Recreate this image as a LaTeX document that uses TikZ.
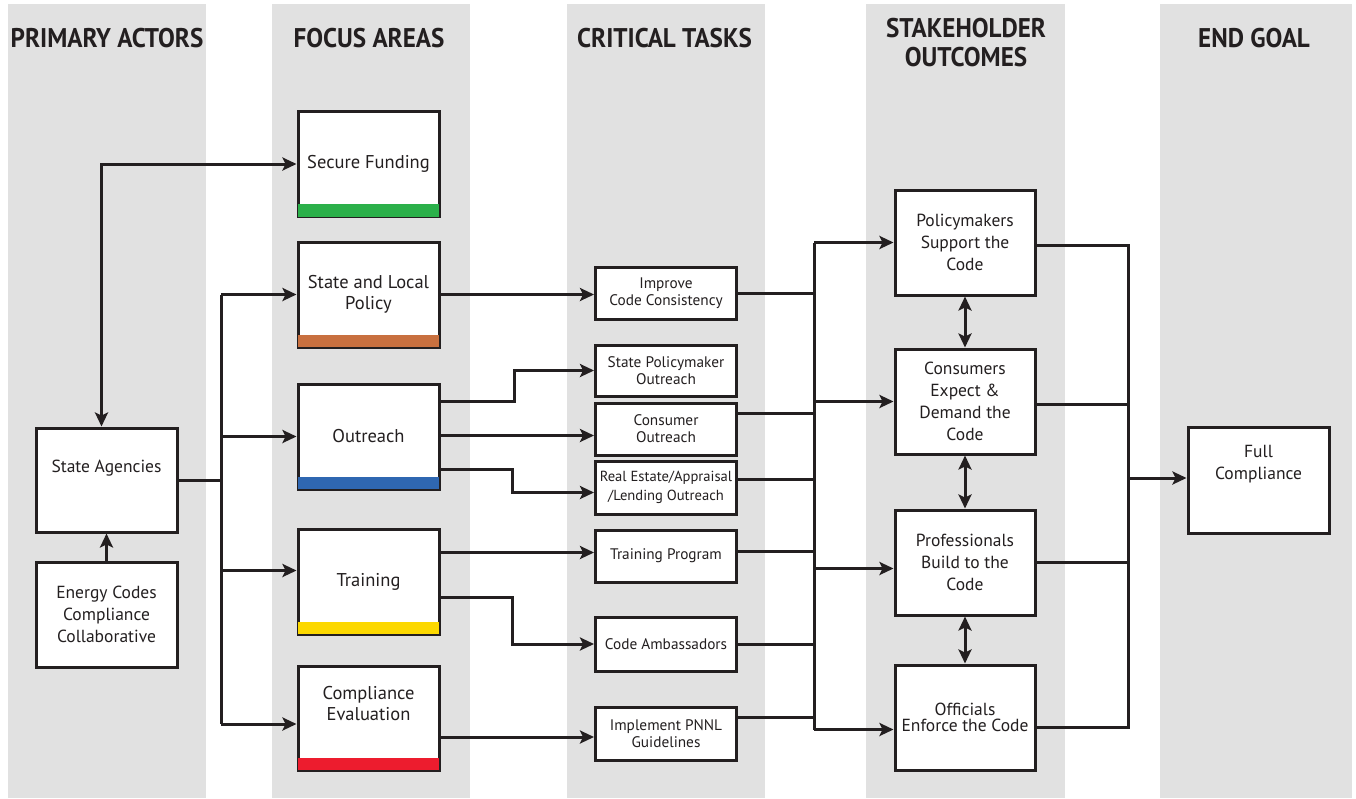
\documentclass[tikz,border=0pt]{standalone}
\usepackage{fontspec}
\setmainfont{PT Sans}
\newfontfamily\headfont[FakeStretch=0.93]{PT Sans}
\usepackage{tikz}
\usetikzlibrary{positioning, calc}
\usetikzlibrary{arrows.meta}

\definecolor{colgray}{HTML}{E1E1E1}
\definecolor{ink}{HTML}{231F20}
\definecolor{barGreen}{HTML}{2BB04A}
\definecolor{barOrange}{HTML}{C8703F}
\definecolor{barBlue}{HTML}{2F67B1}
\definecolor{barYellow}{HTML}{FCD800}
\definecolor{barRed}{HTML}{ED1C2E}

\tikzset{
  box/.style={draw=ink, fill=white, line width=3pt, inner sep=0pt, align=center,
              text=ink, minimum width=141pt, minimum height=105pt},
  actorbox/.style={box, font=\fontsize{17.5}{22}\selectfont},
  focusbox/.style={box, font=\fontsize{18.5}{21}\selectfont},
  taskbox/.style={box, minimum height=52pt, font=\fontsize{15.3}{17}\selectfont},
  outbox/.style={box, minimum width=140pt, font=\fontsize{17.5}{22}\selectfont},
  head/.style={text=ink, align=center, font=\headfont\bfseries\fontsize{27}{29}\selectfont},
  wire/.style={draw=ink, line width=3pt},
  arr/.style={wire, -{Stealth[length=14pt,width=13pt,inset=3pt]}},
  twoarr/.style={wire, {Stealth[length=14pt,width=13pt,inset=3pt]}-{Stealth[length=14pt,width=13pt,inset=3pt]}}
}

\begin{document}
\begin{tikzpicture}[x=1pt, y=-1pt]
  \useasboundingbox (0,0) rectangle (1356,798);
  % column backgrounds
  \foreach \xa/\xb in {8/206, 272/470, 567/765, 866/1065, 1160/1352}
    \fill[colgray] (\xa,4) rectangle (\xb,798);

  % headings
  \node[head] (hpa) at (107,38) {PRIMARY ACTORS};
  \node[head] (hfa) at (369,38) {FOCUS AREAS};
  \node[head] (hct) at (664.5,38) {CRITICAL TASKS};
  \node[head] (hso) at (966,42.5) {STAKEHOLDER\\OUTCOMES};
  \node[head] (heg) at (1254,38) {END GOAL};

  % primary actors
  \node[actorbox, minimum height=104pt] (sa) at (106.5,480) {State Agencies\\[6pt]};
  \node[actorbox] (ec) at (106.5,614.5) {Energy Codes\\Compliance\\Collaborative};

  % focus areas
  \node[focusbox] (sf)  at (368.5,164)   {Secure Funding};
  \node[focusbox] (slp) at (368.5,294.5) {State and Local\\Policy};
  \node[focusbox] (ou)  at (368.5,436.5) {Outreach};
  \node[focusbox] (tr)  at (368.5,581.5) {Training};
  \node[focusbox, minimum height=104pt] (ce) at (368.5,718) {Compliance\\Evaluation\\[8pt]};
  \foreach \n/\c in {sf/barGreen, slp/barOrange, ou/barBlue, tr/barYellow, ce/barRed}
    \fill[\c] ([xshift=1.5pt,yshift=1.5pt]\n.south west) rectangle ([xshift=-1.5pt,yshift=14pt]\n.south east);

  % critical tasks
  \node[taskbox] (ict) at (666,293)   {Improve\\Code Consistency};
  \node[taskbox, minimum height=51pt] (spo) at (666,370.5) {State Policymaker\\Outreach};
  \node[taskbox] (co)  at (666,429)   {Consumer\\Outreach};
  \node[taskbox, minimum height=53pt, font=\fontsize{14.6}{17}\selectfont] (rea) at (666,487.5) {Real Estate/Appraisal\\[2pt]/Lending Outreach};
  \node[taskbox] (tp)  at (666,556)   {Training Program};
  \node[taskbox, minimum height=54pt] (ca)  at (666,644)   {Code Ambassadors};
  \node[taskbox, minimum height=53pt] (pn)  at (666,733.5) {Implement PNNL\\Guidelines};

  % stakeholder outcomes
  \node[outbox] (pol) at (965,242.5) {Policymakers\\Support the\\Code};
  \node[outbox] (con) at (965,401.5) {Consumers\\Expect \&\\Demand the\\Code};
  \node[outbox] (pro) at (965,562.5) {Professionals\\Build to the\\Code};
  \node[outbox] (off) at (965,717.5) {Officials\\[-6pt]Enforce the Code};

  % end goal
  \node[outbox, minimum width=141pt, minimum height=106pt] (fc) at (1258.5,480) {Full\\Compliance\\[14pt]};

  % actors to focus areas
  \coordinate (busA) at (221,0);
  \coordinate (trin) at ([yshift=11pt]tr.west);
  \coordinate (cein) at ([yshift=-6pt]ce.west);
  \draw[arr] (ec.north) -- (sa.south);
  \draw[twoarr] ([xshift=-5pt]sa.north) |- (sf.west);
  \draw[wire] (sa.east) -- (sa.east -| busA);
  \draw[wire] (busA |- slp.west) -- (busA |- cein);
  \draw[arr] (busA |- slp.west) -- (slp.west);
  \draw[arr] (busA |- ou.west) -- (ou.west);
  \draw[arr] (busA |- trin) -- (trin);
  \draw[arr] (busA |- cein) -- (cein);

  % focus areas to tasks
  \draw[arr] (slp.east) -- (slp.east -| ict.west);
  \draw[arr] ([yshift=35pt]ou.east) -- ++(74,0) |- (spo.west);
  \draw[arr] ([yshift=1pt]ou.east) -- ([yshift=1pt]ou.east -| co.west);
  \draw[arr] ([yshift=-33pt]ou.east) -- ++(72,0) |- ([yshift=-5pt]rea.west);
  \draw[arr] ([yshift=29pt]tr.east) -- ([yshift=29pt]tr.east -| tp.west);
  \draw[arr] ([yshift=-16pt]tr.east) -- ++(72,0) |- (ca.west);
  \draw[arr] ([yshift=-19pt]ce.east) -- ([yshift=-19pt]ce.east -| pn.west);

  % tasks to outcomes
  \coordinate (busB) at (814,0);
  \coordinate (proin) at ([yshift=-6pt]pro.west);
  \coordinate (offin) at ([yshift=-12pt]off.west);
  \draw[wire] (busB |- pol.west) -- (busB |- offin);
  \draw[wire] (ict.east) -- (ict.east -| busB);
  \draw[wire] ([yshift=16pt]co.east) -- ([yshift=16pt]co.east -| busB);
  \draw[wire] ([yshift=8pt]rea.east) -- ([yshift=8pt]rea.east -| busB);
  \draw[wire] ([yshift=5pt]tp.east) -- ([yshift=5pt]tp.east -| busB);
  \draw[wire] (ca.east) -- (ca.east -| busB);
  \draw[wire] ([yshift=16pt]pn.east) -- ([yshift=16pt]pn.east -| busB);
  \draw[arr] (busB |- pol.west) -- (pol.west);
  \draw[arr] (busB |- con.west) -- (con.west);
  \draw[arr] (busB |- proin) -- (proin);
  \draw[arr] (busB |- offin) -- (offin);
  \draw[twoarr] (pol.south) -- (con.north);
  \draw[twoarr] (con.south) -- (pro.north);
  \draw[twoarr] (pro.south) -- (off.north);

  % outcomes to end goal
  \coordinate (busC) at (1128,0);
  \coordinate (offout) at ([yshift=-10pt]off.east);
  \coordinate (fcin) at ([yshift=2pt]fc.west);
  \draw[wire] ([yshift=-3pt]pol.east) -- ([yshift=-3pt]pol.east -| busC) -- (busC |- offout) -- (offout);
  \draw[wire] ([yshift=-3pt]con.east) -- ([yshift=-3pt]con.east -| busC);
  \draw[wire] (pro.east) -- (pro.east -| busC);
  \draw[arr] (busC |- fcin) -- (fcin);
\end{tikzpicture}
\end{document}
